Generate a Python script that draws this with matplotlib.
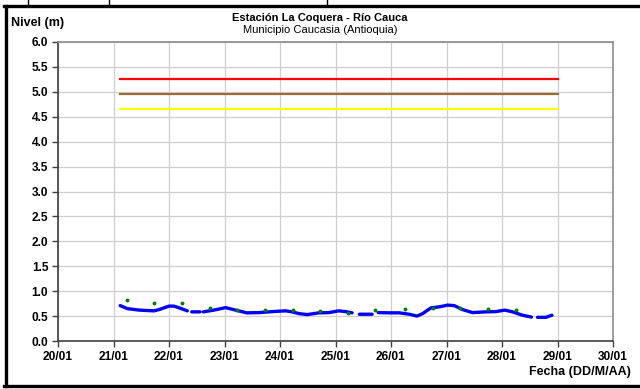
import numpy as np
import matplotlib.pyplot as plt
from matplotlib.lines import Line2D

plt.rcParams["font.family"] = ["Liberation Sans", "DejaVu Sans"]

nan = np.nan

# level readings (day of January, metres); nan marks gaps in the record
level_days = [21.12, 21.25, 21.46, 21.73, 21.82, 22.0, 22.09, 22.21, 22.33, nan,
              22.41, 22.56, nan,
              22.62, 22.81, 23.02, 23.2, 23.4, 23.62, 23.86, 24.1, 24.22, 24.34,
              24.49, 24.7, 24.88, 25.06, 25.18, 25.3, nan,
              25.43, 25.66, nan,
              25.77, 25.97, 26.15, 26.33, 26.47, 26.57, 26.72, 26.87, 27.02,
              27.14, 27.29, 27.47, 27.71, 27.89, 28.05, 28.19, 28.37, 28.53, nan,
              28.64, 28.79, 28.9]
level_vals = [0.71, 0.65, 0.62, 0.605, 0.63, 0.70, 0.70, 0.655, 0.605, nan,
              0.585, 0.585, nan,
              0.585, 0.62, 0.67, 0.62, 0.565, 0.57, 0.59, 0.605, 0.585, 0.55,
              0.53, 0.565, 0.57, 0.605, 0.59, 0.565, nan,
              0.537, 0.537, nan,
              0.57, 0.565, 0.565, 0.537, 0.50, 0.55, 0.665, 0.685, 0.72,
              0.71, 0.63, 0.57, 0.585, 0.59, 0.62, 0.585, 0.517, 0.48, nan,
              0.475, 0.475, 0.517]

# manual readings (green dots)
read_days = [21.24, 21.73, 22.24, 22.73, 23.23, 23.73, 24.23, 24.72, 25.22,
             25.72, 26.26, 26.76, 27.25, 27.75, 28.25]
read_vals = [0.82, 0.76, 0.76, 0.67, 0.63, 0.63, 0.62, 0.60, 0.57,
             0.625, 0.64, 0.67, 0.67, 0.64, 0.625]

# alert thresholds
alert_span = [21.12, 29.0]
alert_red = 5.25
alert_orange = 4.95
alert_yellow = 4.65

x_ticks = list(range(20, 31))
x_labels = ["%02d/01" % d for d in x_ticks]
y_ticks = [i * 0.5 for i in range(13)]

fig = plt.figure(figsize=(6.4, 3.89), dpi=100)
ax = fig.add_axes([58 / 640, 1 - 341 / 389, 555 / 640, 299 / 389])

ax.plot(alert_span, [alert_red] * 2, color="#ff0000", lw=1.6)
ax.plot(alert_span, [alert_orange] * 2, color="#9c6b2e", lw=1.6)
ax.plot(alert_span, [alert_yellow] * 2, color="#ffff00", lw=1.6)

ax.plot(level_days, level_vals, color="#0000ff", lw=2.4, solid_capstyle="round")
ax.plot(read_days, read_vals, "o", color="#008000", ms=2.8, mec="none")

ax.set_xlim(20, 30)
ax.set_ylim(0, 6)
ax.set_xticks(x_ticks)
ax.set_xticklabels(x_labels)
ax.set_yticks(y_ticks)
ax.set_yticklabels(["%.1f" % v for v in y_ticks])
ax.grid(True, color="#cfcfcf", lw=0.9)
ax.set_axisbelow(True)

for side in ["top", "right"]:
    ax.spines[side].set_color("#8c8c8c")
    ax.spines[side].set_linewidth(1.2)
for side in ["left", "bottom"]:
    ax.spines[side].set_color("#404040")
    ax.spines[side].set_linewidth(1.2)

ax.tick_params(direction="out", length=4, width=1, color="#404040",
               labelsize=8.6, pad=3)
for lbl in ax.get_xticklabels() + ax.get_yticklabels():
    lbl.set_fontweight("bold")

fig.text(320 / 640, 1 - 18 / 389, "Estación La Coquera - Río Cauca",
         ha="center", va="center", fontsize=8, fontweight="bold")
fig.text(320 / 640, 1 - 30 / 389, "Municipio Caucasia (Antioquia)",
         ha="center", va="center", fontsize=8)
fig.text(11 / 640, 1 - 23 / 389, "Nivel (m)", ha="left", va="center",
         fontsize=9, fontweight="bold")
fig.text(631 / 640, 1 - 372 / 389, "Fecha (DD/M/AA)", ha="right", va="center",
         fontsize=9, fontweight="bold")

# outer frame (left, top, bottom) and table rules above it
fig.add_artist(Line2D([5.5 / 640, 5.5 / 640], [1 - 5.5 / 389, 1 - 386 / 389],
                      color="black", lw=2.4, transform=fig.transFigure))
fig.add_artist(Line2D([4 / 640, 1], [1 - 5.5 / 389, 1 - 5.5 / 389],
                      color="black", lw=2.4, transform=fig.transFigure))
fig.add_artist(Line2D([4 / 640, 1], [1 - 386 / 389, 1 - 386 / 389],
                      color="black", lw=2.4, transform=fig.transFigure))
for xp in [28, 109, 327]:
    fig.add_artist(Line2D([xp / 640, xp / 640], [1, 1 - 5 / 389],
                          color="black", lw=1.0, transform=fig.transFigure))

fig.savefig("out.png", dpi=100)
